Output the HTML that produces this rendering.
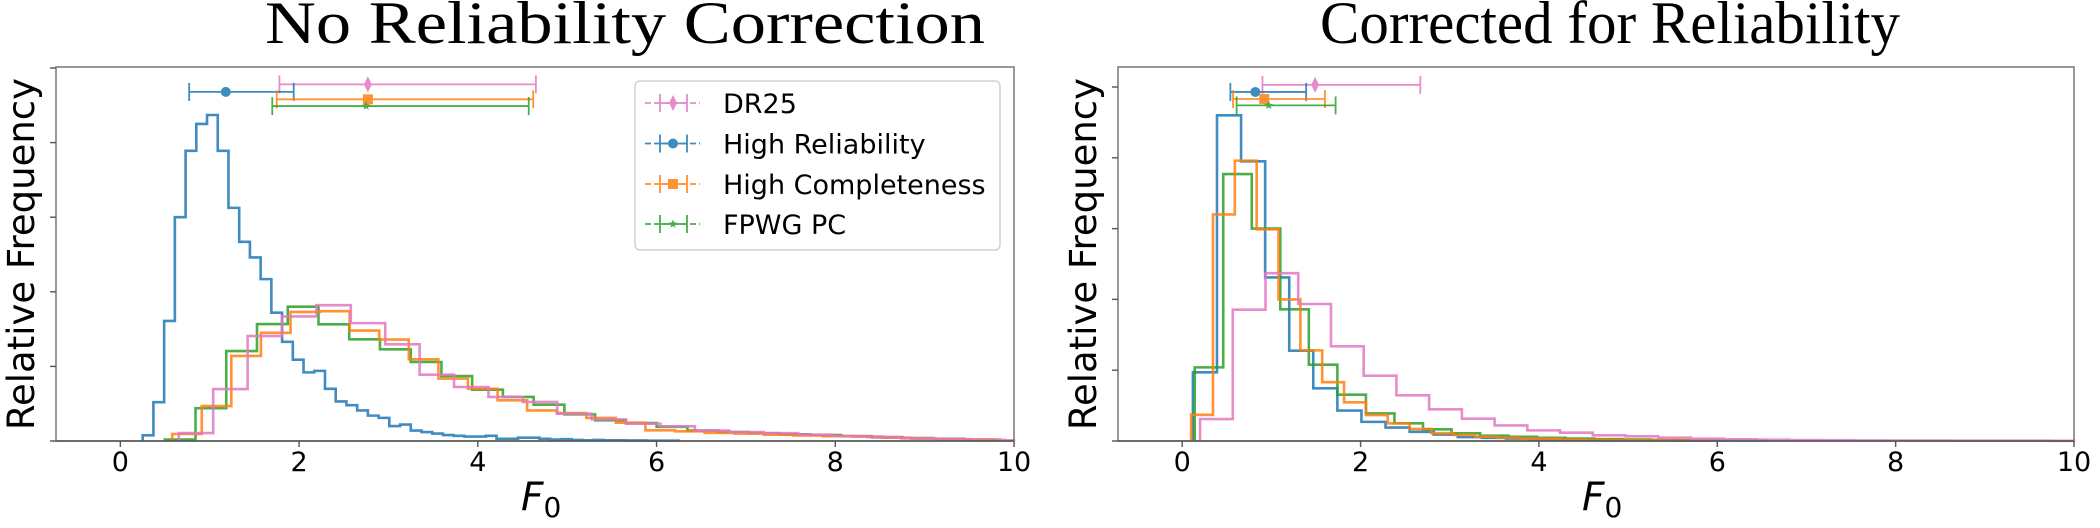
<!DOCTYPE html>
<html><head><meta charset="utf-8"><style>
html,body{margin:0;padding:0;background:#fff;}
svg{display:block;font-family:"DejaVu Sans","Liberation Sans",sans-serif;}
</style></head><body>
<svg id="fig" width="2100" height="528" viewBox="0 0 2100 528" xmlns="http://www.w3.org/2000/svg"></svg>
<script>
// ---- data ----
const leftBlueStart=0.25, leftBlueW=0.12;
const leftBlue=[0.076,0.52,1.61,3.0,3.89,4.25,4.37,3.89,3.125,2.67,2.46,2.17,1.72,1.33,1.09,0.92,0.94,0.70,0.53,0.48,0.41,0.34,0.31,0.20,0.22,0.14,0.12,0.10,0.08,0.07,0.06,0.06,0.07,0.03,0.03,0.045,0.045,0.03,0.02,0.025,0.015,0.01,0.015,0.01,0.01,0.008,0.008,0.005,0.005,0.005];
const leftGreenStart=0.497, leftGreenW=0.344;
const leftGreen=[0.02,0.44,1.205,1.567,1.80,1.564,1.363,1.229,1.059,0.871,0.688,0.59,0.487,0.357,0.277,0.24,0.19,0.14,0.12,0.105,0.09,0.08,0.065,0.05,0.04,0.03,0.02];
const leftOrangeStart=0.58, leftOrangeW=0.331;
const leftOrange=[0.094,0.469,1.14,1.45,1.73,1.74,1.48,1.36,1.095,0.836,0.70,0.545,0.41,0.375,0.31,0.245,0.143,0.13,0.11,0.10,0.085,0.075,0.065,0.06,0.045,0.03,0.025,0.02];
const leftPinkStart=0.654, leftPinkW=0.385;
const leftPink=[0.107,0.696,1.407,1.67,1.82,1.58,1.296,0.889,0.724,0.59,0.523,0.366,0.29,0.232,0.197,0.14,0.12,0.105,0.085,0.067,0.054,0.036,0.022,0.015,0.01];
const rightBlueStart=0.12, rightBlueW=0.27;
const rightBlue=[0.97,4.60,3.95,2.31,1.276,0.744,0.43,0.27,0.19,0.13,0.09,0.056,0.045,0.035,0.025,0.02,0.015,0.01,0.01,0.008,0.006,0.005];
const rightOrangeStart=0.10, rightOrangeW=0.245;
const rightOrange=[0.37,3.2,3.96,2.99,2.0,1.28,0.83,0.546,0.367,0.25,0.17,0.11,0.085,0.06,0.045,0.035,0.03,0.02,0.015,0.012,0.01,0.008,0.006,0.005];
const rightGreenStart=0.14, rightGreenW=0.32;
const rightGreen=[1.04,3.77,3.0,1.86,1.078,0.654,0.39,0.25,0.165,0.108,0.075,0.06,0.045,0.035,0.025,0.02,0.015,0.01,0.008,0.006];
const rightPinkStart=0.2, rightPinkW=0.367;
const rightPink=[0.31,1.855,2.37,1.935,1.337,0.923,0.645,0.447,0.315,0.22,0.15,0.118,0.08,0.066,0.047,0.033,0.024,0.018,0.014,0.011,0.009,0.007,0.006,0.005,0.004,0.004,0.003];
const seriesNames=["DR25","High Reliability","High Completeness","FPWG PC"];
const leftErrLo=[1.78,0.77,1.75,1.70];
const leftErrMid=[2.77,1.18,2.77,2.75];
const leftErrHi=[4.65,1.94,4.62,4.57];
const leftErrY=[4.78,4.68,4.58,4.49];
const rightErrLo=[0.90,0.54,0.57,0.61];
const rightErrMid=[1.49,0.82,0.92,0.97];
const rightErrHi=[2.67,1.39,1.60,1.72];
const rightErrY=[5.03,4.93,4.83,4.74];
const xTicks=[0,2,4,6,8,10];
const yTicks=[0,1,2,3,4,5];

const COL=["#e377c2","#1f77b4","#ff7f0e","#2ca02c"];
const NS="http://www.w3.org/2000/svg";
const svg=document.getElementById('fig');
function el(tag,attrs,parent){const e=document.createElementNS(NS,tag);for(const k in attrs)e.setAttribute(k,attrs[k]);(parent||svg).appendChild(e);return e;}

function makeAxes(name,x0,x1,top,bot,yUnit){
  const xmin=-0.72,xmax=10;
  const X=v=>x0+(v-xmin)*(x1-x0)/(xmax-xmin);
  const Y=v=>bot-v*yUnit;
  const g=el('g',{});
  
  
  return {g,X,Y,x0,x1,top,bot};
}
function hist(ax,start,w,vals,color,name){
  let d=`M${ax.X(start)},${ax.Y(0)}`;
  vals.forEach((v,i)=>{const a=Math.max(start+i*w,-0.72),b=Math.min(start+(i+1)*w,10);if(a>=10)return;d+=` L${ax.X(a)},${ax.Y(v)} L${ax.X(b)},${ax.Y(v)}`;});
  const last=Math.min(start+vals.length*w,10);
  d+=` L${ax.X(last)},${ax.Y(0)}`;
  const p=el('path',{d,fill:'none',stroke:color,'stroke-width':2.6,'stroke-opacity':0.85,'stroke-linejoin':'miter'},ax.g);
  
  
}
function marker(parent,i,cx,cy){
  const c=COL[i];
  if(i===0) return el('path',{d:`M${cx},${cy-8} L${cx+4},${cy} L${cx},${cy+8} L${cx-4},${cy} Z`,fill:c},parent);
  if(i===1) return el('circle',{cx,cy,r:5,fill:c},parent);
  if(i===2) return el('rect',{x:cx-5,y:cy-5,width:10,height:10,fill:c},parent);
  let pts=[];for(let k=0;k<10;k++){const r=k%2?2:4.5,a=-Math.PI/2+k*Math.PI/5;pts.push((cx+r*Math.cos(a)).toFixed(1)+','+(cy+r*Math.sin(a)).toFixed(1));}
  return el('polygon',{points:pts.join(' '),fill:c},parent);
}
function errbars(ax,lo,mid,hi,ys){
  lo.forEach((l,i)=>{
    const g=el('g',{opacity:0.85},ax.g);
    
    
    const y=ax.Y(ys[i]);
    el('line',{x1:ax.X(l),x2:ax.X(hi[i]),y1:y,y2:y,stroke:COL[i],'stroke-width':1.8},g);
    el('line',{x1:ax.X(l),x2:ax.X(l),y1:y-9,y2:y+9,stroke:COL[i],'stroke-width':1.8},g);
    el('line',{x1:ax.X(hi[i]),x2:ax.X(hi[i]),y1:y-9,y2:y+9,stroke:COL[i],'stroke-width':1.8},g);
    marker(g,i,ax.X(mid[i]),y);
  });
}
function frame(ax,xlabelName){
  const r=el('rect',{x:ax.x0,y:ax.top,width:ax.x1-ax.x0,height:ax.bot-ax.top,fill:'none',stroke:'#7f7f7f','stroke-width':1.6},ax.g);
  
  
  el('line',{x1:ax.x0,x2:ax.x1,y1:ax.bot,y2:ax.bot,stroke:'#555','stroke-width':1.6},ax.g);
  xTicks.forEach(t=>{
    el('line',{x1:ax.X(t),x2:ax.X(t),y1:ax.bot,y2:ax.bot+6,stroke:'#555','stroke-width':1.4},ax.g);
    const tx=el('text',{x:ax.X(t),y:ax.bot+30,'font-size':27,'text-anchor':'middle',fill:'#000'},ax.g);
    tx.textContent=t;
    
    
  });
  yTicks.forEach(t=>{const yy=ax.Y(t);if(yy<ax.top)return;el('line',{x1:ax.x0-6,x2:ax.x0,y1:yy,y2:yy,stroke:'#555','stroke-width':1.4},ax.g);});
  const xl=el('text',{x:(ax.x0+ax.x1)/2-14,y:510,'font-size':39,'font-style':'italic',fill:'#000'},ax.g);
  xl.textContent='F';
  
  
  const sub=el('tspan',{'font-size':28,'font-style':'normal',dy:7},xl);sub.textContent='0';
  const yl=el('text',{x:0,y:0,'font-size':37,'text-anchor':'middle',fill:'#000',transform:`translate(${ax.x0-22},${(ax.top+ax.bot)/2}) rotate(-90)`},ax.g);
  yl.textContent='Relative Frequency';
  
  
}
function title(txt,cx,w,name){
  const t=el('text',{x:cx-w/2,y:43,'font-size':60,textLength:w,lengthAdjust:'spacingAndGlyphs','font-family':'"Liberation Serif",serif',fill:'#000'});
  t.textContent=txt;
  
  
}

// left panel
const L=makeAxes('left-panel',56,1014,67,441,74.6);
hist(L,leftBlueStart,leftBlueW,leftBlue,COL[1],'hist-high-reliability');
hist(L,leftGreenStart,leftGreenW,leftGreen,COL[3],'hist-fpwg-pc');
hist(L,leftOrangeStart,leftOrangeW,leftOrange,COL[2],'hist-high-completeness');
hist(L,leftPinkStart,leftPinkW,leftPink,COL[0],'hist-dr25');
errbars(L,leftErrLo,leftErrMid,leftErrHi,leftErrY);
frame(L,'x-axis-title');
title('No Reliability Correction',625,720,'left-title');

// legend
const lg=el('g',{},L.g);


el('rect',{x:635,y:81,width:365,height:169,rx:5,fill:'#fff','fill-opacity':0.8,stroke:'#d0d0d0','stroke-width':1.5},lg);
const legY=[103,143.5,184,224];
seriesNames.forEach((n,i)=>{
  const e=el('g',{opacity:0.85},lg);
  
  
  const y=legY[i];
  el('line',{x1:645,x2:700,y1:y,y2:y,stroke:COL[i],'stroke-width':1.8,'stroke-dasharray':'6,3'},e);
  el('line',{x1:660,x2:687,y1:y,y2:y,stroke:COL[i],'stroke-width':1.8},e);
  el('line',{x1:660,x2:660,y1:y-9,y2:y+9,stroke:COL[i],'stroke-width':1.8},e);
  el('line',{x1:687,x2:687,y1:y-9,y2:y+9,stroke:COL[i],'stroke-width':1.8},e);
  marker(e,i,673,y);
  const t=el('text',{x:723,y:y+10,'font-size':27,fill:'#000'},lg);
  t.textContent=n;
});

// right panel
const R=makeAxes('right-panel',1118,2074,67,441,70.8);
hist(R,rightBlueStart,rightBlueW,rightBlue,COL[1],'hist-high-reliability-corrected');
hist(R,rightGreenStart,rightGreenW,rightGreen,COL[3],'hist-fpwg-pc-corrected');
hist(R,rightOrangeStart,rightOrangeW,rightOrange,COL[2],'hist-high-completeness-corrected');
hist(R,rightPinkStart,rightPinkW,rightPink,COL[0],'hist-dr25-corrected');
errbars(R,rightErrLo,rightErrMid,rightErrHi,rightErrY);
frame(R,'x-axis-title-right');
title('Corrected for Reliability',1610,580,'right-title');
</script>
</body></html>
